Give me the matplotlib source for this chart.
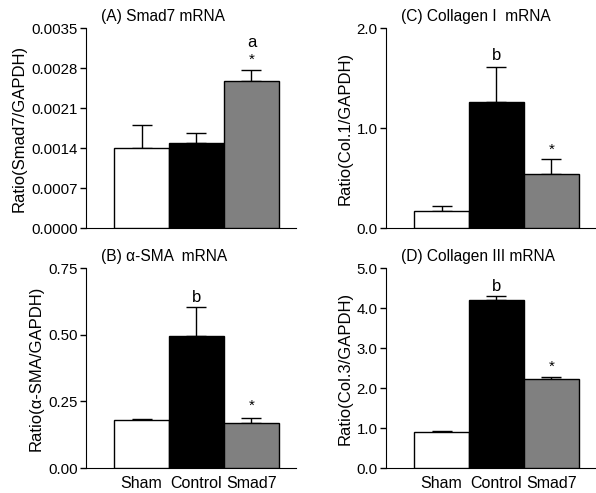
import matplotlib
matplotlib.use("Agg")
import matplotlib.pyplot as plt

plt.rcParams['font.family'] = ['Liberation Sans', 'DejaVu Sans']

groups = ["Sham", "Control", "Smad7"]
colors = ["white", "black", "#808080"]

smad7_vals = [0.0014, 0.00148, 0.00257]
smad7_err = [0.00040, 0.00019, 0.00019]

sma_vals = [0.180, 0.496, 0.170]
sma_err = [0.002, 0.108, 0.017]

col1_vals = [0.173, 1.26, 0.542]
col1_err = [0.050, 0.35, 0.147]

col3_vals = [0.89, 4.21, 2.22]
col3_err = [0.025, 0.09, 0.06]

panels = [
    dict(pos=(86, 28), title="(A) Smad7 mRNA", ylabel="Ratio(Smad7/GAPDH)",
         vals=smad7_vals, err=smad7_err, ylim=0.0035,
         ticks=[0, 0.0007, 0.0014, 0.0021, 0.0028, 0.0035], fmt="{:.4f}",
         ann=[(2, 0.00294, "*"), (2, 0.00324, "a")], xlab=False),
    dict(pos=(386, 28), title="(C) Collagen I  mRNA", ylabel="Ratio(Col.1/GAPDH)",
         vals=col1_vals, err=col1_err, ylim=2.0,
         ticks=[0, 1.0, 2.0], fmt="{:.1f}",
         ann=[(1, 1.73, "b"), (2, 0.78, "*")], xlab=False),
    dict(pos=(86, 268), title="(B) \u03b1-SMA  mRNA", ylabel="Ratio(\u03b1-SMA/GAPDH)",
         vals=sma_vals, err=sma_err, ylim=0.75,
         ticks=[0, 0.25, 0.50, 0.75], fmt="{:.2f}",
         ann=[(1, 0.641, "b"), (2, 0.234, "*")], xlab=True),
    dict(pos=(386, 268), title="(D) Collagen III mRNA", ylabel="Ratio(Col.3/GAPDH)",
         vals=col3_vals, err=col3_err, ylim=5.0,
         ticks=[0, 1.0, 2.0, 3.0, 4.0, 5.0], fmt="{:.1f}",
         ann=[(1, 4.53, "b"), (2, 2.53, "*")], xlab=True),
]

W, H = 596, 493
fig = plt.figure(figsize=(W / 100, H / 100), dpi=100)

for p in panels:
    x0, y0 = p["pos"]
    aw, ah = 210, 200
    ax = fig.add_axes([x0 / W, 1 - (y0 + ah) / H, aw / W, ah / H])
    xs = range(len(groups))
    ax.bar(xs, p["vals"], width=1.0, color=colors, edgecolor="black", linewidth=1.0, zorder=3)
    ax.errorbar(xs, p["vals"], yerr=[[0] * 3, p["err"]], fmt="none", ecolor="black",
                elinewidth=1.0, capsize=7, capthick=1.0, zorder=2)
    ax.set_xlim(-1.01, 2.81)
    ax.set_ylim(0, p["ylim"])
    ax.set_yticks(p["ticks"])
    ax.set_yticklabels([p["fmt"].format(t) for t in p["ticks"]])
    ax.spines["top"].set_visible(False)
    ax.spines["right"].set_visible(False)
    ax.tick_params(axis="y", direction="out", length=4, width=1, labelsize=10.8, pad=2)
    if p["xlab"]:
        ax.set_xticks(list(xs))
        ax.set_xticklabels(groups, fontsize=11.5)
        ax.tick_params(axis="x", length=0, pad=6)
    else:
        ax.set_xticks([])
    ax.set_ylabel(p["ylabel"], fontsize=12, labelpad=3)
    ax.text(0.07, 1.035, p["title"], transform=ax.transAxes, fontsize=11.2,
            ha="left", va="baseline")
    for xi, yv, s in p["ann"]:
        ax.text(xi, yv, s, ha="center", va="center", fontsize=12 if s != "*" else 11)

fig.savefig("out.png", dpi=100)
